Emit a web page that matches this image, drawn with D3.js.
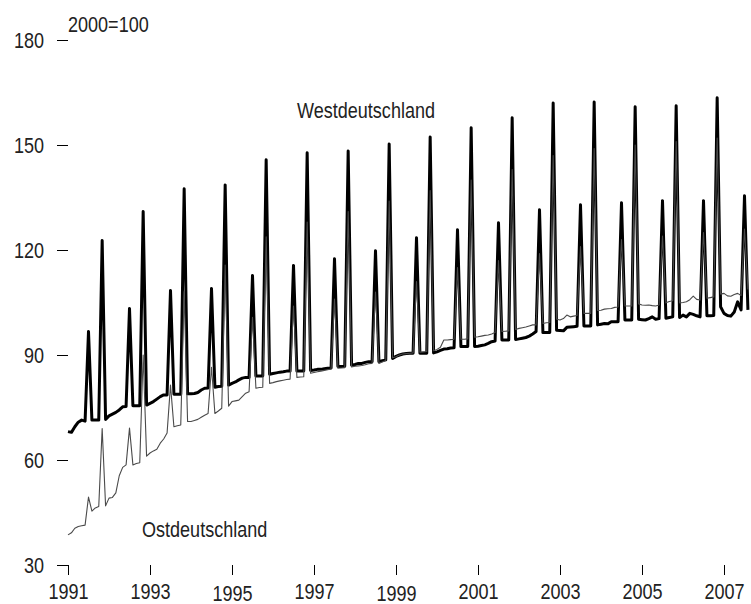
<!DOCTYPE html>
<html>
<head>
    <script src="https://d3js.org/d3.v7.min.js"></script>
    <style>
        body { margin: 0; background: #fff; }
        svg { display: block; font-family: "Liberation Sans", Arial, sans-serif; }
        .tick line { stroke: #000; stroke-width: 1; }
        .tick text, .note { fill: #222; font-size: 22px; }
    </style>
</head>
<body>
    <svg width="751" height="604"></svg>
    <script>
        // Monthly index (2000=100), Jan 1991 .. Aug 2007
        const startYear = 1991;

        const westValues = [
            68.1, 67.9, 69.5, 70.8, 71.4, 71.1, 96.7, 71.4, 71.4, 71.4, 122.7, 71.6,   // 1991
            72.6, 73.1, 73.6, 74.3, 75.2, 75.3, 103.3, 75.5, 75.5, 75.5, 131.0, 75.7,  // 1992
            76.2, 76.7, 77.4, 78.1, 78.6, 78.6, 108.4, 78.8, 78.8, 78.8, 137.5, 78.9,  // 1993
            78.9, 79.0, 79.3, 80.0, 80.5, 80.6, 109.0, 80.8, 81.0, 81.1, 138.6, 81.4,  // 1994
            81.9, 82.3, 82.9, 83.4, 83.6, 83.6, 112.7, 84.0, 84.0, 84.0, 145.8, 84.5,  // 1995
            84.7, 84.9, 85.1, 85.2, 85.4, 85.4, 115.6, 85.4, 85.4, 85.4, 147.8, 85.6,  // 1996
            85.7, 85.9, 85.9, 86.1, 86.2, 86.3, 117.5, 86.7, 86.7, 86.8, 148.3, 87.1,  // 1997
            87.3, 87.6, 87.6, 87.9, 88.1, 88.1, 119.8, 88.1, 88.4, 88.6, 150.3, 89.0,  // 1998
            89.6, 90.0, 90.3, 90.4, 90.5, 90.5, 123.5, 90.5, 90.5, 90.5, 152.3, 90.6,  // 1999
            90.9, 91.3, 91.7, 91.8, 92.0, 92.1, 125.8, 92.4, 92.4, 92.4, 154.9, 92.4,  // 2000
            92.5, 92.7, 92.9, 93.3, 93.8, 94.0, 127.8, 94.3, 94.3, 94.3, 157.8, 94.4,  // 2001
            94.6, 94.8, 95.0, 95.4, 96.0, 96.7, 131.5, 96.4, 96.4, 96.4, 162.0, 97.1,  // 2002
            97.0, 96.9, 97.9, 98.0, 98.1, 98.2, 132.9, 98.3, 98.3, 98.3, 162.3, 98.6,  // 2003
            98.8, 99.0, 98.9, 99.5, 99.5, 99.5, 133.5, 100.0, 100.0, 100.0, 160.9, 100.2, // 2004
            100.1, 100.0, 100.4, 100.9, 100.2, 100.4, 134.1, 100.5, 100.7, 100.9, 161.2, 100.7, // 2005
            101.4, 100.9, 101.9, 101.6, 101.2, 100.9, 134.1, 101.2, 101.2, 101.3, 163.5, 103.8, // 2006
            101.9, 101.3, 101.1, 102.3, 105.2, 102.9, 135.5, 102.9                      // 2007
        ];

        const eastValues = [
            38.6, 39.2, 40.5, 41.0, 41.2, 41.4, 49.4, 45.4, 46.3, 46.7, 69.0, 46.9,    // 1991
            49.1, 49.3, 50.6, 55.5, 57.9, 58.6, 69.1, 58.6, 59.0, 59.2, 90.0, 61.1,    // 1992
            62.0, 62.6, 63.1, 64.8, 66.0, 67.7, 81.4, 69.5, 69.8, 70.0, 108.1, 71.0,   // 1993
            71.0, 71.3, 71.6, 72.2, 72.8, 73.3, 86.5, 73.3, 74.0, 74.8, 115.7, 75.4,   // 1994
            76.7, 76.9, 77.1, 78.1, 79.1, 79.5, 100.8, 80.5, 80.7, 80.8, 123.8, 81.9,  // 1995
            82.1, 82.4, 82.6, 82.8, 83.0, 83.1, 104.0, 83.6, 83.7, 83.8, 128.0, 84.8,  // 1996
            85.0, 85.2, 85.4, 85.6, 85.8, 86.0, 106.0, 86.2, 86.3, 86.4, 131.0, 86.6,  // 1997
            86.8, 86.9, 87.0, 87.2, 87.5, 87.6, 108.0, 87.6, 88.0, 88.4, 134.0, 89.2,  // 1998
            89.5, 90.0, 90.3, 90.4, 90.5, 90.6, 111.0, 90.8, 90.9, 91.0, 137.0, 91.2,  // 1999
            91.6, 92.2, 94.3, 94.3, 94.4, 94.5, 115.0, 94.5, 94.5, 94.6, 140.0, 95.1,  // 2000
            95.2, 95.4, 95.6, 95.7, 96.0, 96.4, 117.0, 96.7, 96.8, 96.9, 143.0, 97.3,  // 2001
            97.6, 97.8, 98.0, 98.3, 98.6, 98.6, 119.0, 99.0, 99.2, 99.3, 147.0, 100.2, // 2002
            100.0, 100.4, 101.4, 100.9, 101.1, 101.3, 121.0, 101.9, 101.9, 101.9, 149.0, 102.7, // 2003
            102.8, 103.1, 103.2, 103.3, 103.6, 103.7, 123.0, 104.0, 104.0, 104.0, 150.0, 104.6, // 2004
            104.3, 104.2, 104.3, 104.1, 104.0, 104.3, 124.0, 104.9, 105.3, 105.5, 151.0, 104.9, // 2005
            105.0, 105.2, 105.8, 106.8, 105.9, 105.7, 125.0, 106.2, 106.4, 106.6, 152.0, 107.4, // 2006
            107.6, 106.9, 106.8, 107.3, 107.6, 107.0, 126.0, 108.7                      // 2007
        ];

        const xTicks = [1991, 1993, 1995, 1997, 1999, 2001, 2003, 2005, 2007];
        const yTicks = [30, 60, 90, 120, 150, 180];
        const seriesLabels = ["Westdeutschland", "Ostdeutschland"];
        const unitLabel = "2000=100";

        // labels that sit a little lower in the original
        const loweredYears = new Set([1995, 1999]);
        // the original uses a narrow face; squeeze a regular one
        const narrow = "scale(0.82,1)";

        let svg = d3.select("svg");

        let x = d3.scaleLinear().domain([1991, 2007]).range([68, 724]);
        let y = d3.scaleLinear().domain([30, 180]).range([565, 40]);

        let toPoints = vals => vals.map((v, i) => ({ t: startYear + i / 12, v: v }));

        // y axis: ticks only, no line
        let yAxis = svg.append("g")
            .attr("transform", "translate(68,0)")
            .call(d3.axisLeft(y).tickValues(yTicks).tickSize(11).tickPadding(13));
        yAxis.select(".domain").remove();
        yAxis.selectAll("text")
            .attr("font-size", null).attr("font-family", null)
            .attr("x", 0)
            .attr("transform", "translate(-24,0) " + narrow);

        // x axis: ticks hanging below the 30 line
        let xAxis = svg.append("g")
            .attr("transform", "translate(0," + y(30) + ")")
            .call(d3.axisBottom(x).tickValues(xTicks).tickFormat(d3.format("d")).tickSize(10));
        xAxis.select(".domain").remove();
        xAxis.selectAll("text")
            .attr("font-size", null).attr("font-family", null)
            .attr("dy", 0)
            .attr("y", d => loweredYears.has(d) ? 36 : 34.5)
            .attr("transform", narrow);

        let line = d3.line()
            .x(d => x(d.t))
            .y(d => y(d.v));

        svg.append("path")
            .datum(toPoints(westValues))
            .attr("d", line)
            .attr("fill", "none")
            .attr("stroke", "#000")
            .attr("stroke-width", 3)
            .attr("stroke-linejoin", "round");

        svg.append("path")
            .datum(toPoints(eastValues))
            .attr("d", line)
            .attr("fill", "none")
            .attr("stroke", "#4a4a4a")
            .attr("stroke-width", 1.1)
            .attr("stroke-linejoin", "round");

        function note(px, py, txt) {
            svg.append("text").attr("class", "note")
                .attr("transform", "translate(" + px + "," + py + ") " + narrow)
                .text(txt);
        }

        note(68, 32, unitLabel);
        note(297, 118, seriesLabels[0]);
        note(142, 537, seriesLabels[1]);
    </script>
</body>
</html>
